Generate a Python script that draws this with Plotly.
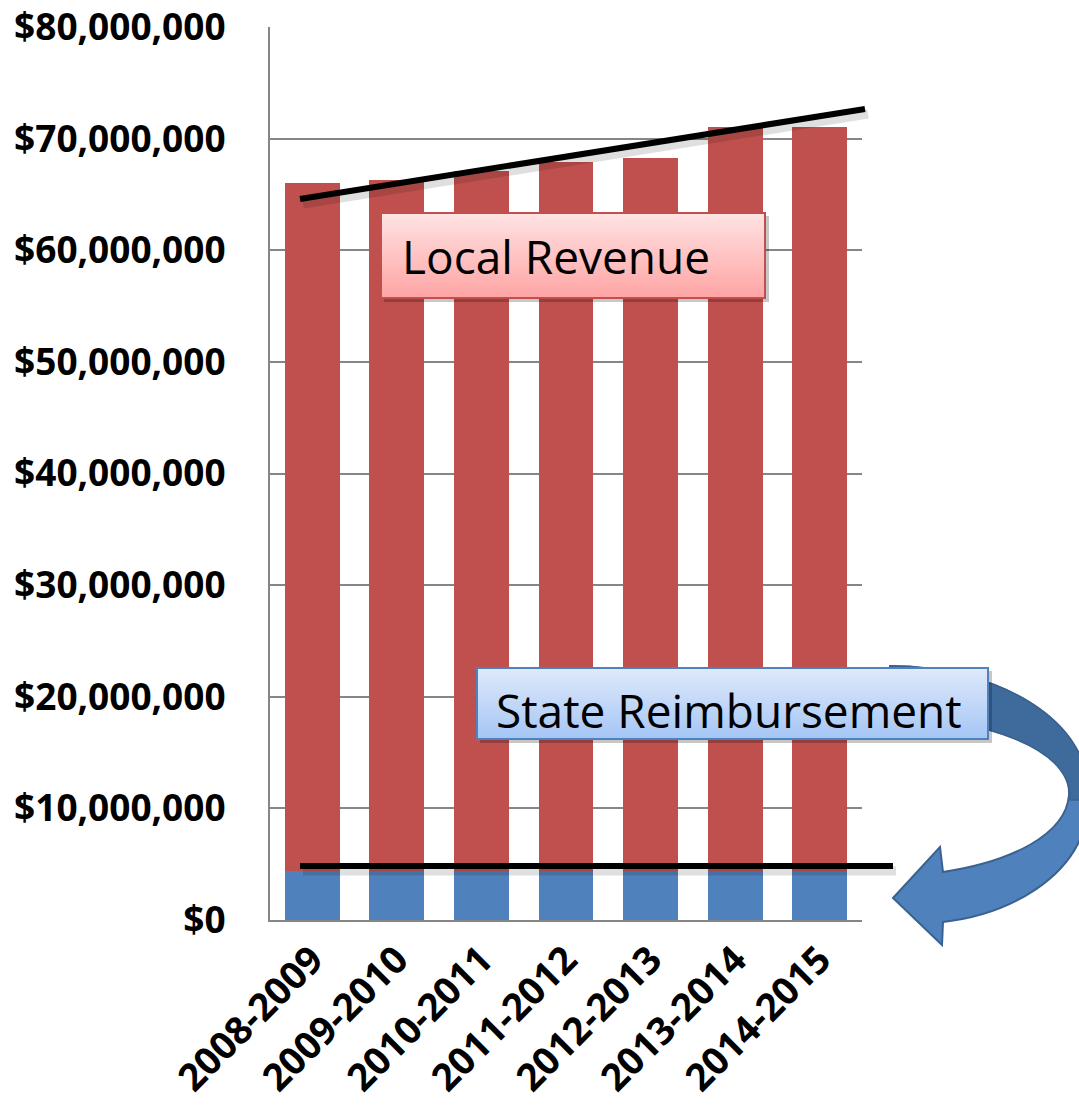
import plotly.graph_objects as go

years = ["2008-2009", "2009-2010", "2010-2011", "2011-2012", "2012-2013", "2013-2014", "2014-2015"]
state_reimb = [4.4e6, 4.4e6, 4.4e6, 4.4e6, 4.4e6, 4.4e6, 4.4e6]
totals = [66.0e6, 66.3e6, 67.1e6, 67.9e6, 68.3e6, 71.0e6, 71.0e6]
local_rev = [t - s for t, s in zip(totals, state_reimb)]
y_ticks = [0, 10e6, 20e6, 30e6, 40e6, 50e6, 60e6, 70e6, 80e6]
y_labels = ["$0", "$10,000,000", "$20,000,000", "$30,000,000", "$40,000,000",
            "$50,000,000", "$60,000,000", "$70,000,000", "$80,000,000"]

W, H = 1079, 1114
L, R, T, B = 270, 862, 27, 920  # pixel coordinates of plot area


def px(x):
    return (x - L) / (R - L)


def py(y):
    return (B - y) / (B - T)


fig = go.Figure()
fig.add_trace(go.Bar(x=years, y=state_reimb, name="State Reimbursement",
                     marker=dict(color="#4F81BD", line=dict(width=0))))
fig.add_trace(go.Bar(x=years, y=local_rev, name="Local Revenue",
                     marker=dict(color="#C0504D", line=dict(width=0))))

shapes = []


def line_px(x0, y0, x1, y1, color, width, opacity=1.0):
    shapes.append(dict(type="line", xref="paper", yref="paper",
                       x0=px(x0), y0=py(y0), x1=px(x1), y1=py(y1),
                       line=dict(color=color, width=width), opacity=opacity, layer="above"))


line_px(303, 204, 868, 114, "#000000", 9, 0.12)
line_px(300, 199, 865, 109, "#000000", 6)
line_px(303, 871, 896, 871, "#000000", 9, 0.12)
line_px(300, 866, 893, 866, "#000000", 6)


def path_px(pts_cmds):
    out = []
    for item in pts_cmds:
        if isinstance(item, str):
            out.append(item)
        else:
            out.append("%.5f,%.5f" % (px(item[0]), py(item[1])))
    return " ".join(out)


arrow = path_px([
    "M", (890, 666),
    "C", (995, 666), (1100, 720), (1088, 812),
    "C", (1078, 880), (1005, 915), (943, 922),
    "L", (942, 945), "L", (893, 898), "L", (940, 847), "L", (943, 872),
    "C", (1010, 862), (1066, 835), (1069, 795),
    "C", (1072, 745), (980, 720), (890, 715), "Z"])
shapes.append(dict(type="path", xref="paper", yref="paper", path=arrow,
                   fillcolor="#4F81BD", line=dict(color="#3A6290", width=2), layer="above"))
dark = path_px([
    "M", (890, 666),
    "C", (995, 666), (1095, 720), (1088, 800),
    "L", (1070, 800),
    "C", (1072, 745), (980, 720), (890, 715), "Z"])
shapes.append(dict(type="path", xref="paper", yref="paper", path=dark,
                   fillcolor="#3F6A9C", line=dict(color="#3A6290", width=1.5), layer="above"))


def grad_box(x0, y0, x1, y1, ctop, cbot, border, n=24):
    shapes.append(dict(type="rect", xref="paper", yref="paper",
                       x0=px(x0 + 3), y0=py(y1 + 4), x1=px(x1 + 4), y1=py(y0 + 3),
                       fillcolor="rgba(0,0,0,0.22)", line=dict(width=0), layer="above"))
    h = (y1 - y0) / n
    for i in range(n):
        f = i / (n - 1)
        c = tuple(int(round(ctop[k] + (cbot[k] - ctop[k]) * f)) for k in range(3))
        yb = min(y1, y0 + (i + 1) * h + 1.5)
        shapes.append(dict(type="rect", xref="paper", yref="paper",
                           x0=px(x0), x1=px(x1), y0=py(yb), y1=py(y0 + i * h),
                           fillcolor="rgb(%d,%d,%d)" % c, line=dict(width=0), layer="above"))
    shapes.append(dict(type="rect", xref="paper", yref="paper",
                       x0=px(x0), x1=px(x1), y0=py(y1), y1=py(y0),
                       fillcolor="rgba(0,0,0,0)", line=dict(color=border, width=2), layer="above"))


grad_box(381, 213, 765, 298, (255, 226, 226), (255, 165, 165), "#C0504D")
grad_box(477, 668, 988, 739, (222, 233, 251), (166, 198, 245), "#4F81BD")

annotations = [
    dict(xref="paper", yref="paper", x=px(400), y=py(256), xanchor="left", yanchor="middle",
         text="Local Revenue", showarrow=False,
         font=dict(family="Open Sans", size=46, color="#000000")),
    dict(xref="paper", yref="paper", x=px(494), y=py(710), xanchor="left", yanchor="middle",
         text="State Reimbursement", showarrow=False,
         font=dict(family="Open Sans", size=46, color="#000000")),
]

fig.update_layout(
    width=W, height=H, barmode="stack", bargap=0.35,
    margin=dict(l=L, r=W - R, t=T, b=H - B, autoexpand=False),
    paper_bgcolor="white", plot_bgcolor="white",
    showlegend=False,
    font=dict(family="Open Sans", color="#000000"),
    shapes=shapes, annotations=annotations,
    xaxis=dict(tickangle=-45, tickfont=dict(family="Open Sans", size=38, weight="bold", color="#000"),
               showline=True, linecolor="#868686", linewidth=2, ticks="", showgrid=False),
    yaxis=dict(range=[0, 80e6], tickvals=y_ticks, ticktext=y_labels,
               tickfont=dict(family="Open Sans", size=37, weight="bold", color="#000"),
               showline=True, linecolor="#868686", linewidth=2, gridcolor="#868686", gridwidth=2,
               ticks="", ticklabelstandoff=35, zeroline=False, ticklabeloverflow="allow"),
)

fig.write_html("out.html", config={"displayModeBar": False, "staticPlot": True},
               post_script="document.body.style.margin='0';document.body.style.overflow='hidden';")
